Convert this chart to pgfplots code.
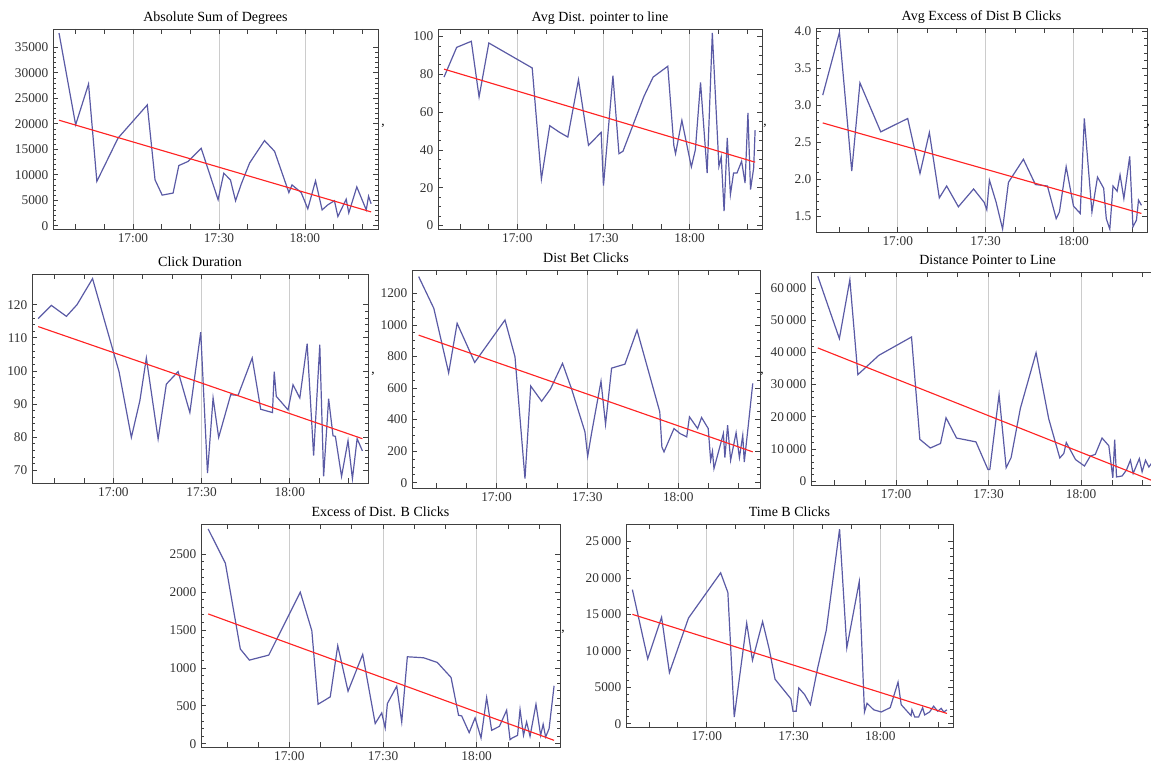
\documentclass[border=0pt]{standalone}
\usepackage{fontspec}
\setmainfont{Liberation Serif}
\usepackage{pgfplots}
\pgfplotsset{compat=1.18}

\definecolor{mmablue}{RGB}{90,90,165}
\definecolor{fitred}{RGB}{255,35,35}

% time axis: minutes after 17:00
\pgfplotsset{
  mma/.style={
    scale only axis, anchor=south west,
    axis line style={black!75, line width=0.6pt},
    tick style={black!75, line width=0.5pt},
    major tick length=4pt, minor tick length=2pt, tick align=inside,
    xtick={0,30,60}, xticklabels={17:00,17:30,18:00},
    grid=major, major grid style={black!20, line width=0.5pt},
    ymajorgrids=false,
    extra x ticks={-20,-10,10,20,40,50,70,80},
    extra x tick style={grid=none, xticklabel={}},
    tick label style={font=\fontsize{10}{12}\selectfont, text=black!80},
    /pgf/number format/assume math mode=true,
    /pgf/number format/set thousands separator={},
    scaled y ticks=false,
    title style={font=\fontsize{10.5}{12}\selectfont, anchor=base, at={(0.5,1)}, yshift=-0.5pt, inner sep=0pt},
  },
  dat/.style={mmablue, line width=0.9pt},
  fit/.style={fitred, line width=0.85pt},
}

\begin{document}
\begin{tikzpicture}

% ---- Absolute Sum of Degrees
\begin{axis}[mma, at={(39.75pt,399pt)}, width=243.75pt, height=150pt,
  title={Absolute Sum of Degrees},
  xmin=-27.9, xmax=85.5, ymin=-650, ymax=38600,
  ytick={0,5000,...,35000}, minor y tick num=4]
\addplot[dat] coordinates {(-25.8,37800) (-20,19800) (-15.5,27800) (-12.6,8700) (-5.2,17200) (5,23700) (7.7,9000) (10.2,6000) (14,6400) (16,11800) (19.2,12600) (23.8,15200) (29.7,5100) (31.7,10300) (34,9000) (35.8,4900) (37.8,8200) (40.7,12300) (45.9,16700) (49.4,14600) (54.4,6500) (55.5,8000) (58.7,6500) (61,3300) (63.7,8800) (66,3100) (68,4100) (70.3,4900) (71.5,1800) (74.4,5200) (75.3,2500) (78.1,7600) (81.4,3100) (82.2,5800) (83.1,4300)};
\addplot[fit] coordinates {(-25.8,20700) (83.1,2700)};
\end{axis}

% ---- Avg Dist. pointer to line
\begin{axis}[mma, at={(328.5pt,399pt)}, width=243pt, height=150pt,
  title={Avg Dist. pointer to line},
  xmin=-27.6, xmax=85.2, ymin=-1.8, ymax=103.9,
  ytick={0,20,...,100}, minor y tick num=3]
\addplot[dat] coordinates {(-25.5,78.5) (-21.1,94.2) (-16,97.4) (-13.3,68) (-9.9,96.5) (5.2,83.3) (8.4,24.6) (11.3,52.8) (14.7,49.3) (17.6,46.8) (21.3,77.1) (24.8,42.4) (29.2,49.3) (30,21.1) (33.3,79.2) (35.4,38) (36.8,39.3) (44.1,68.3) (47.3,78.5) (52.4,84.2) (54.5,42.4) (55.1,38) (57.3,55.6) (60.6,31) (62,40.1) (63.8,75.7) (66.1,27.8) (67.9,101.8) (70.2,31.3) (71,36.3) (72,7.6) (73.1,46.3) (74.2,16.4) (75.3,27.8) (76.5,27.8) (78.1,34) (79.3,22.5) (80.3,59.5) (81.2,19) (82.3,30.5) (82.8,50.4)};
\addplot[fit] coordinates {(-25.5,82.7) (82.8,33.5)};
\end{axis}

% ---- Avg Excess of Dist B Clicks
\begin{axis}[mma, at={(612pt,396.75pt)}, width=248.25pt, height=153pt,
  title={Avg Excess of Dist B Clicks},
  xmin=-27.9, xmax=85.1, ymin=1.29, ymax=4.04,
  ytick={1.5,2.0,...,4.0}, minor y tick num=4,
  yticklabel style={/pgf/number format/.cd, fixed, fixed zerofill, precision=1}]
\addplot[dat] coordinates {(-25.6,3.135) (-19.9,3.98) (-15.7,2.11) (-12.9,3.30) (-5.8,2.64) (3.4,2.82) (7.6,2.08) (10.8,2.63) (14.2,1.75) (16.7,1.91) (20.7,1.63) (25.9,1.87) (29.5,1.69) (30.4,1.59) (31.3,1.99) (33.6,1.69) (35.8,1.33) (37.8,1.96) (42.9,2.27) (47,1.93) (51.1,1.91) (54.1,1.47) (55.2,1.56) (57.5,2.17) (60,1.64) (62.3,1.54) (63.7,2.82) (66.3,1.56) (68.2,2.03) (70.3,1.88) (71.2,1.47) (72.4,1.33) (73.5,1.91) (74.9,1.84) (75.9,2.06) (77.2,1.74) (79.2,2.31) (80.3,1.36) (81.5,1.45) (82.2,1.72) (83.2,1.65)};
\addplot[fit] coordinates {(-25.6,2.76) (83.2,1.54)};
\end{axis}

% ---- Click Duration
\begin{axis}[mma, at={(24pt,208.5pt)}, width=252pt, height=156.75pt,
  title={Click Duration},
  xmin=-27.7, xmax=86.6, ymin=66.1, ymax=129.3,
  ytick={70,80,...,120}, minor y tick num=4]
\addplot[dat] coordinates {(-25.6,115.8) (-21.1,119.8) (-16,116.5) (-12.4,120) (-7.1,127.9) (1.9,99.8) (6.1,79.9) (9,91) (11.2,103.9) (15.2,79.4) (18,96) (22,99.8) (26,87.4) (29.7,111.7) (32,69.1) (33.9,91.8) (35.8,79.9) (39.9,92.8) (42.4,92.6) (47.2,103.9) (50.1,88.4) (54.1,87.4) (54.7,99.8) (55.4,92.3) (59.4,88.2) (61.1,95.8) (63.4,91.8) (65.9,108.2) (68.1,74.4) (70.2,107.9) (71.5,68.1) (73.2,91.6) (74.7,80.4) (75.5,80.2) (77.6,68.1) (79.8,78.9) (81.3,67.4) (82.9,79.5) (84.7,75.8)};
\addplot[fit] coordinates {(-25.6,113.4) (84.7,79.5)};
\end{axis}

% ---- Dist Bet Clicks
\begin{axis}[mma, at={(309pt,204.75pt)}, width=261pt, height=163.5pt,
  title={Dist Bet Clicks},
  xmin=-27.9, xmax=87, ymin=-34, ymax=1348,
  ytick={0,200,...,1200}, minor y tick num=3]
\addplot[dat] coordinates {(-25.7,1306) (-20.7,1105) (-15.8,696) (-13,1010) (-7.2,762) (2.8,1031) (6.1,798) (9.4,25) (11.3,612) (14.9,516) (17.8,593) (21.8,756) (24.8,593) (29.2,322) (30.1,167) (31.4,315) (34.5,643) (36,370) (38,726) (42.4,751) (46.4,967) (53.9,449) (54.6,226) (55.3,195) (58.6,343) (60.6,311) (62.8,290) (63.7,417) (66.4,343) (67.7,413) (69.9,343) (70.7,142) (71.3,199) (71.8,89) (74.9,311) (75.4,159) (76.3,364) (77.3,142) (79.1,317) (80.2,159) (81.3,300) (81.8,131) (82.9,322) (84.6,629)};
\addplot[fit] coordinates {(-25.7,935) (84.6,195)};
\end{axis}

% ---- Distance Pointer to Line
\begin{axis}[mma, at={(608.25pt,207pt)}, width=264.75pt, height=159.75pt,
  title={Distance Pointer to Line},
  xmin=-27.6, xmax=86.9, ymin=-1200, ymax=65000,
  ytick={0,10000,...,60000}, minor y tick num=4,
  yticklabels={0,10\,000,20\,000,30\,000,40\,000,50\,000,60\,000}]
\addplot[dat] coordinates {(-25.4,63700) (-18.4,44300) (-15,62600) (-12.4,33100) (-5.6,39100) (5,44800) (7.7,13000) (11.1,10300) (14.4,11700) (16.2,19700) (19.6,13400) (25.9,12200) (29.8,3600) (30.4,3600) (33.4,26900) (35.7,4200) (37.3,7300) (40.3,22600) (45.4,39900) (49.5,19400) (53.1,7200) (54.4,8600) (55.2,12000) (58.2,6700) (61.1,4700) (63,7800) (64.6,8300) (66.8,13400) (69,11000) (70.3,1000) (70.9,12900) (71.5,1300) (73.3,1600) (74.7,3400) (76,6500) (76.9,2400) (78.9,7000) (79.8,2900) (80.9,6500) (82,4400) (83.2,6000)};
\addplot[fit] coordinates {(-25.4,41400) (83.5,0)};
\end{axis}

% ---- Excess of Dist. B Clicks
\begin{axis}[mma, at={(150.75pt,10.5pt)}, width=269.25pt, height=167.25pt,
  title={Excess of Dist. B Clicks},
  xmin=-28.3, xmax=86.7, ymin=-44, ymax=2897,
  ytick={0,500,...,2500}, minor y tick num=4]
\addplot[dat] coordinates {(-26,2831) (-20.5,2381) (-15.7,1248) (-12.8,1102) (-6.6,1168) (3.5,1997) (7.2,1490) (9.2,520) (13.1,617) (15.5,1292) (18.8,692) (23.5,1177) (27.5,265) (29.6,406) (30.7,207) (31.4,529) (34.4,758) (36,287) (37.8,1146) (43,1133) (47.4,1071) (51.8,873) (54.2,375) (55.2,366) (57.6,146) (59.5,340) (61.4,75) (63.2,608) (64.8,176) (67.3,229) (69.6,441) (70.7,53) (71.4,75) (73.1,110) (73.9,450) (75,110) (76,287) (77.1,97) (79,520) (80.5,110) (81.3,256) (82.1,88) (83.2,198) (84.8,763)};
\addplot[fit] coordinates {(-26,1711) (84.8,44)};
\end{axis}

% ---- Time B Clicks
\begin{axis}[mma, at={(469.5pt,25.5pt)}, width=245.25pt, height=152.25pt,
  title={Time B Clicks},
  xmin=-27.9, xmax=85.1, ymin=-460, ymax=27400,
  ytick={0,5000,...,25000}, minor y tick num=4,
  yticklabels={0,5000,10\,000,15\,000,20\,000,25\,000}]
\addplot[dat] coordinates {(-25.7,18400) (-20.4,8900) (-15.6,14600) (-12.9,7000) (-6.3,14500) (4.8,20700) (7.3,18000) (9.5,900) (13.8,13800) (15.8,8700) (19.3,14000) (21.6,10200) (23.6,6100) (29.1,3400) (29.8,1700) (30.9,1700) (31.8,4900) (33.8,4000) (35.8,2600) (38.3,7600) (41.3,12800) (45.9,26700) (48.4,10400) (52.7,19500) (54.5,1600) (55.4,2800) (57.7,1900) (60.3,1600) (63.4,2200) (66.1,5700) (67.2,2600) (70.6,1100) (70.9,1900) (71.9,900) (73.2,900) (74.6,2200) (75.3,1200) (77,1600) (78.4,2400) (79.8,1700) (81,2100) (81.9,1600) (83,1900)};
\addplot[fit] coordinates {(-25.7,15000) (83,1400)};
\end{axis}

% stray list commas between the panels
\node[font=\fontsize{10}{12}\selectfont] at (287.25pt,476pt) {,};
\node[font=\fontsize{10}{12}\selectfont] at (573.75pt,476pt) {,};
\node[font=\fontsize{10}{12}\selectfont] at (861pt,476pt) {,};
\node[font=\fontsize{10}{12}\selectfont] at (279.75pt,290pt) {,};
\node[font=\fontsize{10}{12}\selectfont] at (571.5pt,290pt) {,};
\node[font=\fontsize{10}{12}\selectfont] at (422.25pt,96.5pt) {,};

\pgfresetboundingbox
\path[use as bounding box] (0,0) rectangle (863.25pt,570.75pt);
\end{tikzpicture}
\end{document}
